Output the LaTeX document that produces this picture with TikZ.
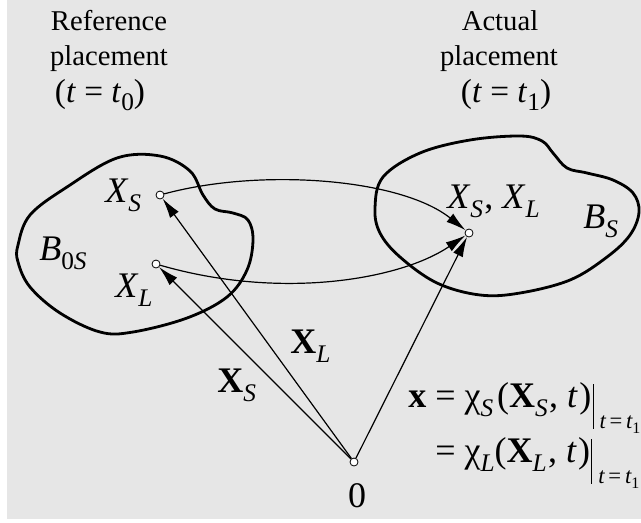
\documentclass[tikz,border=0pt]{standalone}
\usepackage{fontspec}
\setmainfont{Liberation Serif}
\usetikzlibrary{arrows.meta}
\definecolor{bgray}{HTML}{E6E6E6}
\newcommand\mf{\fontsize{27pt}{30pt}\selectfont}
\newcommand\sbs[1]{\raisebox{-0.25em}{\fontsize{19pt}{19pt}\selectfont\itshape #1}}
\newcommand\sbu[1]{\raisebox{-0.25em}{\fontsize{19pt}{19pt}\selectfont #1}}
\newcommand\evalbar{\kern1pt\rule[-0.6em]{0.7pt}{1.25em}\,\raisebox{-0.6em}{\fontsize{17pt}{17pt}\selectfont\itshape t\,\upshape=\,\itshape t\raisebox{-0.2em}{\fontsize{12pt}{12pt}\selectfont\upshape 1}}}
\begin{document}
\begin{tikzpicture}[x=0.75pt,y=-0.75pt,
  every node/.style={font=\fontsize{21.5pt}{26pt}\selectfont, inner sep=0pt},
  lbl/.style={anchor=base west, font=\mf},
  ttl/.style={anchor=base},
  blob/.style={line width=2.1pt, line join=round},
  arr/.style={line width=0.9pt, -{Latex[length=15pt,width=8pt]}},
  pt/.style={circle, draw, fill=white, line width=0.6pt, minimum size=6pt}]
\useasboundingbox (0,0) rectangle (641,522);
\fill[bgray] (7,0) rectangle (641,519);

% titles
\node[ttl] (r1) at (109,30) {Reference};
\node[ttl] (r2) at (109,65) {placement};
\node[ttl, font=\fontsize{25pt}{28pt}\selectfont] (r3) at (100,102) {(\textit{t} = \textit{t}\sbu{0})};
\node[ttl] (a1) at (500,30) {Actual};
\node[ttl] (a2) at (499,65) {placement};
\node[ttl, font=\fontsize{25pt}{28pt}\selectfont] (a3) at (506,102) {(\textit{t} = \textit{t}\sbu{1})};

% left blob
\draw[blob] plot[smooth cycle, tension=0.6] coordinates {
 (18,245) (30,215) (67,187) (117,158) (160,156) (190,171) (203,195) (215,209)
 (233,213) (248,220) (253,240) (247,270) (227,297) (187,318) (133,332)
 (100,332) (60,313) (30,287) (18,262)};
% right blob
\draw[blob] plot[smooth cycle, tension=0.6] coordinates {
 (375,208) (383,177) (420,153) (470,140) (520,136) (542,141) (553,153)
 (567,168) (587,173) (613,180) (633,193) (639,212) (630,235) (607,257)
 (570,280) (520,293) (480,295) (437,283) (400,257) (380,233)};

% points
\node[pt] (ps) at (160,195) {};
\node[pt] (pl) at (156,264) {};
\node[pt] (pt1) at (469,233) {};
\node[pt] (po) at (354,462) {};

% arrows
\draw[arr] (po) -- (ps);
\draw[arr] (po) -- (pl);
\draw[arr] (po) -- (pt1);
\draw[arr] (ps) .. controls (260,168) and (400,178) .. (pt1);
\draw[arr] (pl) .. controls (280,300) and (400,280) .. (pt1);

% labels
\node[lbl] (lxs) at (105,202) {\textit{X}\sbs{S}};
\node[lbl] (lb0) at (39,260) {\textit{B}\sbs{\upshape0\itshape S}};
\node[lbl] (lxl) at (115,297) {\textit{X}\sbs{L}};
\node[lbl] (lxx) at (447,208) {\textit{X}\sbs{S}\kern1pt, \textit{X}\sbs{L}};
\node[lbl] (lbs) at (583,228) {\textit{B}\sbs{S}};
\node[lbl] (vxs) at (217,392) {\textbf{X}\sbs{S}};
\node[lbl] (vxl) at (290,353) {\textbf{X}\sbs{L}};
\node[ttl, font=\mf] (zero) at (357,507) {0};

% equation
\node[lbl] (eq1) at (408,407) {\textbf{x} = χ\sbs{S}\kern3pt(\textbf{X}\sbs{S}\kern1pt, \textit{t}\kern1pt)\evalbar};
\node[lbl] (eq2) at (435,462) {= χ\sbs{L}(\textbf{X}\sbs{L}\kern1pt, \textit{t}\kern1pt)\evalbar};
\end{tikzpicture}
\end{document}
